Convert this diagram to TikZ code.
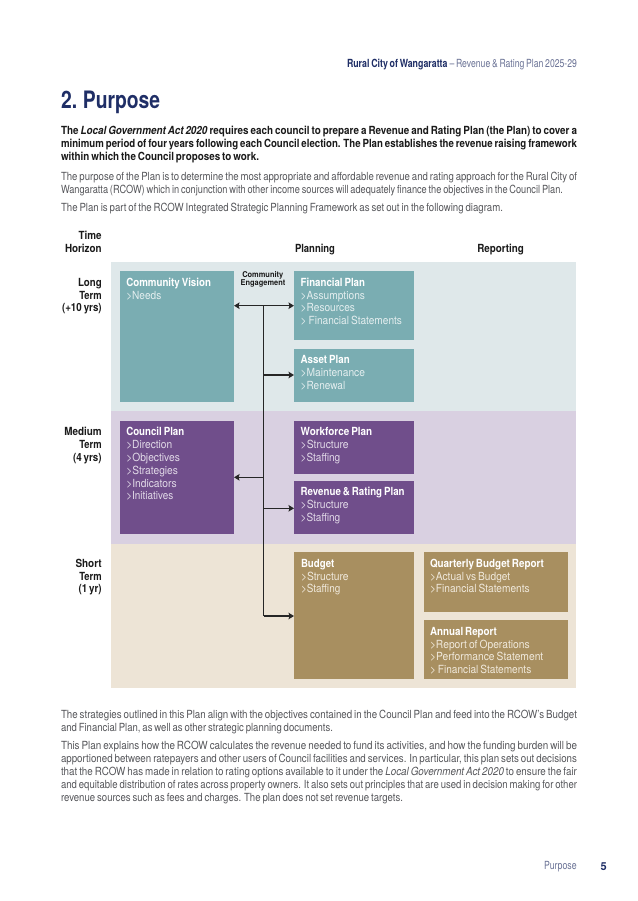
\documentclass[tikz,border=0pt]{standalone}
\usepackage{fontspec}
\usepackage{graphicx}
\setmainfont[WordSpace=0.72]{TeX Gyre Heros}
\newcommand{\medf}{\bfseries}
\usetikzlibrary{arrows.meta}
\definecolor{navy}{HTML}{1F2E66}
\definecolor{bodyc}{HTML}{55565A}
\definecolor{blk}{HTML}{1A1A1A}
\definecolor{hdrc}{HTML}{6B7396}
\definecolor{bandA}{HTML}{DFE8EA}
\definecolor{bandB}{HTML}{D9D0E1}
\definecolor{bandC}{HTML}{EDE4D6}
\definecolor{boxA}{HTML}{7AADB2}
\definecolor{boxB}{HTML}{704E8B}
\definecolor{boxC}{HTML}{A88F60}
\definecolor{subA}{HTML}{E4EEEF}
\definecolor{subB}{HTML}{E2DAE8}
\definecolor{subC}{HTML}{F0E9DC}
\newcounter{tn}
% fit text to a given width in px (1px = 1pt here)
\newcommand{\fitw}[2]{\setbox0\hbox{#2}\pgfmathsetmacro{\fitf}{#1/(\the\wd0/1pt)}\scalebox{\fitf}[1]{\box0}}
\tikzset{
  x=1pt,y=-1pt,
  band/.style={fill=#1,draw=none},
  panel/.style={fill=#1,draw=none,inner sep=0pt,outer sep=0pt,anchor=north west},
  tline/.style={inner sep=0pt,outer sep=0pt,anchor=base west,font=\fontsize{11.2}{12}\selectfont,text=#1},
  conn/.style={draw=black!85,line width=1.1pt},
  arr/.style={conn,-{Stealth[length=5.5pt,width=6.5pt,inset=1pt]}},
}
% \T{x}{baseline}{right}{colour}{text}
\newcommand{\T}[5]{\stepcounter{tn}\pgfmathsetmacro{\wdd}{#3-#1}\node[tline=#4] (t\thetn) at (#1,#2) {\fitw{\wdd}{#5}};}
\begin{document}
\begin{tikzpicture}
\useasboundingbox (0,0) rectangle (637,901);
\fill[white] (0,0) rectangle (637,901);
% header
\T{347}{68}{447.6}{navy}{\medf Rural City of Wangaratta}
\T{449.5}{68}{577}{hdrc}{– Revenue \& Rating Plan 2025-29}
% title
\node[inner sep=0pt,anchor=base west,text=navy,font=\fontsize{24}{26}\selectfont\bfseries] (title) at (61,108.5) {\fitw{99}{2. Purpose}};
% intro
\T{61}{135}{577}{blk}{\medf The \textit{Local Government Act 2020} requires each council to prepare a Revenue and Rating Plan (the Plan) to cover a}
\T{61}{148}{577}{blk}{\medf minimum period of four years following each Council election. The Plan establishes the revenue raising framework}
\T{61}{161}{259}{blk}{\medf within which the Council proposes to work.}
\T{61}{181}{577}{bodyc}{The purpose of the Plan is to determine the most appropriate and affordable revenue and rating approach for the Rural City of}
\T{61}{194}{563}{bodyc}{Wangaratta (RCOW) which in conjunction with other income sources will adequately finance the objectives in the Council Plan.}
\T{61}{212}{503}{bodyc}{The Plan is part of the RCOW Integrated Strategic Planning Framework as set out in the following diagram.}
% bands
\fill[band=bandA] (111,262) rectangle (576,411);
\fill[band=bandB] (111,411) rectangle (576,544);
\fill[band=bandC] (111,544) rectangle (576,688);
% boxes
\node[panel=boxA,minimum width=114pt,minimum height=131pt] (cv) at (120,271) {};
\node[panel=boxA,minimum width=120pt,minimum height=69pt] (fp) at (294,271) {};
\node[panel=boxA,minimum width=120pt,minimum height=53pt] (ap) at (294,349) {};
\node[panel=boxB,minimum width=114pt,minimum height=113pt] (cp) at (120,421) {};
\node[panel=boxB,minimum width=120pt,minimum height=53pt] (wp) at (294,421) {};
\node[panel=boxB,minimum width=120pt,minimum height=53pt] (rr) at (294,481) {};
\node[panel=boxC,minimum width=120pt,minimum height=127pt] (bu) at (294,552) {};
\node[panel=boxC,minimum width=144pt,minimum height=59.5pt] (qb) at (424,552) {};
\node[panel=boxC,minimum width=144pt,minimum height=59pt] (ar) at (424,620) {};
% connectors
\coordinate (j1) at (263.7,305.7);
\coordinate (j2) at (263.7,375);
\coordinate (j3) at (263.7,477.3);
\coordinate (j4) at (263.7,508.3);
\coordinate (j5) at (263.7,616);
\draw[conn] (j1) -- (j5);
\draw[arr] (j1) -- (cv.east |- j1);
\draw[arr] (j1) -- (fp.west |- j1);
\draw[arr] (j2) -- (ap.west |- j2);
\draw[arr] (j3) -- (cp.east |- j3);
\draw[arr] (j4) -- (rr.west |- j4);
\draw[arr] (j5) -- (bu.west |- j5);
% column headings
\T{78.7}{239.7}{101.7}{blk}{\medf Time}
\T{65}{252.7}{101.7}{blk}{\medf Horizon}
\T{295}{252.7}{335}{blk}{\medf Planning}
\T{477.3}{252.7}{524}{blk}{\medf Reporting}
\T{78}{286}{101.7}{blk}{\medf Long}
\T{79.3}{299}{101.7}{blk}{\medf Term}
\T{62}{311.7}{101.7}{blk}{\medf (+10 yrs)}
\T{64.3}{435.3}{101.7}{blk}{\medf Medium}
\T{79.3}{448.3}{101.7}{blk}{\medf Term}
\T{73}{461}{101.7}{blk}{\medf (4 yrs)}
\T{75.5}{567}{101.7}{blk}{\medf Short}
\T{79.3}{580}{101.7}{blk}{\medf Term}
\T{78.5}{592.7}{101.7}{blk}{\medf (1 yr)}
\T{242.3}{277.3}{283.3}{blk}{\fontsize{8}{9}\selectfont\medf Community}
\T{240.7}{285.7}{285.3}{blk}{\fontsize{8}{9}\selectfont\medf Engagement}
% box texts
\T{126.3}{286}{211}{white}{\medf Community Vision}
\T{126.3}{299}{161.3}{subA}{>Needs}
\T{300.7}{286}{365}{white}{\medf Financial Plan}
\T{300.7}{299}{365}{subA}{>Assumptions}
\T{300.7}{311.7}{355}{subA}{>Resources}
\T{300.7}{324.3}{402}{subA}{> Financial Statements}
\T{300.7}{363}{349.7}{white}{\medf Asset Plan}
\T{300.7}{376}{365}{subA}{>Maintenance}
\T{300.7}{389}{345.3}{subA}{>Renewal}
\T{126.3}{435.3}{184.3}{white}{\medf Council Plan}
\T{126.3}{448.3}{172.3}{subB}{>Direction}
\T{126.3}{461}{180}{subB}{>Objectives}
\T{126.3}{474}{178}{subB}{>Strategies}
\T{126.3}{487}{176.7}{subB}{>Indicators}
\T{126.3}{499.7}{173.3}{subB}{>Initiatives}
\T{300.7}{435.3}{372.3}{white}{\medf Workforce Plan}
\T{300.7}{448.3}{348.7}{subB}{>Structure}
\T{300.7}{461}{340.3}{subB}{>Staffing}
\T{300.7}{495.7}{404.7}{white}{\medf Revenue \& Rating Plan}
\T{300.7}{508.7}{348.7}{subB}{>Structure}
\T{300.7}{521.7}{340.3}{subB}{>Staffing}
\T{301}{567}{334.3}{white}{\medf Budget}
\T{301}{580}{348.7}{subC}{>Structure}
\T{301}{592.7}{340.3}{subC}{>Staffing}
\T{430}{567}{544}{white}{\medf Quarterly Budget Report}
\T{430}{580}{510.3}{subC}{>Actual vs Budget}
\T{430}{592.7}{529.7}{subC}{>Financial Statements}
\T{430}{635}{497}{white}{\medf Annual Report}
\T{430}{648}{529.7}{subC}{>Report of Operations}
\T{430}{660.7}{543.3}{subC}{>Performance Statement}
\T{430}{673.3}{531.3}{subC}{> Financial Statements}
% closing text
\T{61}{718}{577}{bodyc}{The strategies outlined in this Plan align with the objectives contained in the Council Plan and feed into the RCOW’s Budget}
\T{61}{731}{333}{bodyc}{and Financial Plan, as well as other strategic planning documents.}
\T{61}{749.3}{577}{bodyc}{This Plan explains how the RCOW calculates the revenue needed to fund its activities, and how the funding burden will be}
\T{61}{762.3}{577}{bodyc}{apportioned between ratepayers and other users of Council facilities and services. In particular, this plan sets out decisions}
\T{61}{775.3}{577}{bodyc}{that the RCOW has made in relation to rating options available to it under the \textit{Local Government Act 2020} to ensure the fair}
\T{61}{788.3}{577}{bodyc}{and equitable distribution of rates across property owners. It also sets out principles that are used in decision making for other}
\T{61}{801}{403}{bodyc}{revenue sources such as fees and charges. The plan does not set revenue targets.}
% footer
\T{544}{869.5}{576.7}{hdrc}{Purpose}
\node[inner sep=0pt,anchor=base west,text=navy,font=\fontsize{11}{12}\selectfont\bfseries] (pg) at (600.5,870) {5};
\end{tikzpicture}
\end{document}
